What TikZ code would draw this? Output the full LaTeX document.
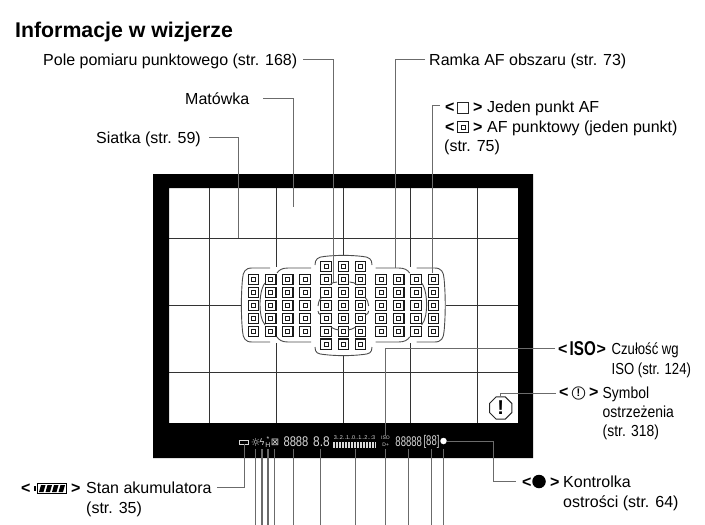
\documentclass[tikz,border=0pt]{standalone}
\usepackage{fontspec}
\setmainfont{Liberation Sans}
\newfontfamily\symfont{DejaVu Sans}
\usetikzlibrary{positioning, shapes.geometric, arrows.meta, calc}
\newcommand{\narrowtxt}[2][.87]{\scalebox{#1}[1]{#2}}

\begin{document}
\begin{tikzpicture}[
  x=1pt, y=-1pt,
  lbl/.style={anchor=base west, inner sep=0pt, text height=12pt, text depth=0pt, font=\fontsize{16}{18}\selectfont},
  brk/.style={anchor=base west, inner sep=0pt, font=\fontsize{16}{18}\selectfont\bfseries},
  title/.style={anchor=base west, inner sep=0pt, font=\fontsize{21.3}{24}\selectfont\bfseries},
  leader/.style={draw=black!58, line width=0.9pt},
  gridline/.style={draw=black!80, line width=0.8pt},
  afout/.style={rectangle, draw=black!90, line width=1.1pt, fill=white, minimum size=10.5pt, inner sep=0pt},
  afin/.style={rectangle, draw=black!90, line width=1pt, fill=white, minimum size=4pt, inner sep=0pt},
  afarc/.style={draw=black!70, line width=0.9pt},
  panel/.style={inner sep=0pt, text=white!85!black, font=\fontsize{14}{14}\selectfont}
]
  \useasboundingbox (0,0) rectangle (705,525);

  \node[title] (head) at (15,37.5) {Informacje w wizjerze};

  % Viewfinder
  \fill[black, even odd rule] (153,174) rectangle (533,458) (169,188) rectangle (518,423);
  \foreach \gx in {209,477} \draw[gridline] (\gx,188) -- (\gx,423);
  \foreach \gy in {238,372.5} \draw[gridline] (169,\gy) -- (518,\gy);
  \draw[gridline] (169,305.3) -- (241,305.3);
  \draw[gridline] (446,305.3) -- (518,305.3);
  \draw[gridline] (276.3,188) -- (276.3,267);
  \draw[gridline] (276.3,343) -- (276.3,423);
  \draw[gridline] (343.3,188) -- (343.3,255);
  \draw[gridline] (343.3,356) -- (343.3,423);
  \draw[gridline] (410,188) -- (410,267);
  \draw[gridline] (410,343) -- (410,423);

  % AF points
  \foreach \ax [count=\c] in {253.3,270.7,287.7,305,381,398.7,416,433.3}
    \foreach \ay [count=\r] in {279.3,292.3,305.3,318.3,331.3} {
      \node[afout] (af\c-\r) at (\ax,\ay) {};
      \node[afin] at (af\c-\r) {};
    }
  \foreach \ax [count=\c] in {326,343.3,360.6}
    \foreach \ay [count=\r] in {266.5,279.3,292.3,305.3,318.3,331.3,344.2} {
      \node[afout] (mid\c-\r) at (\ax,\ay) {};
      \node[afin] at (mid\c-\r) {};
    }

  % AF area frames
  \foreach \mx/\sx in {0/1,686.6/-1} {
    \begin{scope}[xshift=\mx, xscale=\sx]
      \draw[afarc] (270,268) -- (252,268) .. controls (245,268) and (243,272) .. (242.5,279) .. controls (241,295) and (241,315) .. (242.5,331) .. controls (243,338) and (245,342) .. (252,342) -- (270,342);
      \draw[afarc] (277,273) .. controls (279,270) and (282,268) .. (288,268) -- (311,268);
      \draw[afarc] (277,337) .. controls (279,340) and (282,342) .. (288,342) -- (311,342);
      \draw[afarc] (265,283) .. controls (261,288) and (260,298) .. (260,305) .. controls (260,312) and (261,320) .. (265,325);
      \draw[afarc] (322,297) .. controls (319,300) and (318,303) .. (318,306);
      \draw[afarc] (318,311) .. controls (318,313) and (319,314) .. (321,315);
      \draw[afarc] (329,285) .. controls (332,283) and (334,282) .. (337,282);
      \draw[afarc] (331,327) .. controls (334,329) and (337,330) .. (339,330);
    \end{scope}
  }
  \draw[afarc] (315,265) .. controls (315,259) and (318,257) .. (324,256.5) .. controls (336,255) and (351,255) .. (363,256.5) .. controls (369,257) and (372,259) .. (372,265);
  \draw[afarc] (315,347) .. controls (315,353) and (318,354) .. (324,354.5) .. controls (336,356) and (351,356) .. (363,354.5) .. controls (369,354) and (372,353) .. (372,347);

  % Warning symbol
  \node[regular polygon, regular polygon sides=8, draw=black!85, line width=1pt, minimum size=24pt, inner sep=0pt, font=\fontsize{20}{20}\selectfont\bfseries] (warn) at (500.7,408) {!};

  % Panel under the picture
  \node[draw=white!85!black, line width=0.8pt, minimum width=9pt, minimum height=4pt, inner sep=0pt] (battPanel) at (244,442) {};
  \node[panel, font=\symfont\fontsize{11}{11}\selectfont] (sun) at (255.7,442) {☼};
  \node[panel, font=\symfont\fontsize{9}{9}\selectfont] (flash) at (262,442) {ϟ};
  \node[panel, align=center, font=\fontsize{7}{6.5}\selectfont] (lock) at (268,442) {*\\H};
  \node[panel, font=\symfont\fontsize{10}{10}\selectfont] (meter) at (275,442) {⊠};
  \node[panel] (shutter) at (296,442) {\scalebox{.8}[1]{8888}};
  \node[panel] (aperture) at (321.5,442) {\scalebox{.85}[1]{8.8}};
  \node[panel, font=\fontsize{5.5}{6}\selectfont] (scaleTxt) at (354.5,437.5) {3..2..1..0..1..2..:3};
  \foreach \bx in {333,334.5,...,376} \draw[white!85!black, line width=0.8pt] (\bx,442) -- (\bx,448);
  \coordinate (barMid) at (355.7,448);
  \node[panel, font=\fontsize{5}{5}\selectfont] (isoPanel) at (385.5,437.5) {ISO};
  \node[panel, font=\fontsize{5}{5}\selectfont] (bracket) at (385.7,445) {D+};
  \node[panel] (shots) at (408.7,442) {\scalebox{.68}[1]{88888}};
  \node[panel] (burst) at (431.5,442) {\scalebox{.68}[1]{[88]}};
  \node[circle, fill=white, minimum size=6.5pt, inner sep=0pt] (lamp) at (443.5,441) {};

  % Labels
  \node[lbl] (pole) at (43,65) {Pole pomiaru punktowego (str. 168)};
  \node[lbl] (matowka) at (185,104.5) {Matówka};
  \node[lbl] (siatka) at (96,143) {Siatka (str. 59)};
  \node[lbl] (ramka) at (429,65) {Ramka AF obszaru (str. 73)};

  \node[brk] (oneLt) at (445,112.5) {<};
  \node[rectangle, draw=black!85, line width=0.9pt, minimum size=11pt, inner sep=0pt] (oneBox) at (463,108) {};
  \node[brk] (oneGt) at (473,112.5) {>};
  \node[lbl] (oneTxt) at (487,112.5) {Jeden punkt AF};
  \node[brk] (spotLt) at (445,132) {<};
  \node[afout] (spotBox) at (463,127) {};
  \node[afin] at (spotBox) {};
  \node[brk] (spotGt) at (473,132) {>};
  \node[lbl] (spotTxt) at (487,132) {AF punktowy (jeden punkt)};
  \node[lbl] (spotPage) at (444,151) {(str. 75)};

  \node[brk] (isoLt) at (558,354.5) {<};
  \node[anchor=base west, inner sep=0pt, font=\fontsize{20}{20}\selectfont\bfseries] (isoSym) at (569.5,355) {\scalebox{.76}[1]{ISO}};
  \node[brk] (isoGt) at (596.5,354.5) {>};
  \node[lbl] (isoOne) at (611.5,354.5) {\narrowtxt[.82]{Czułość wg}};
  \node[lbl] (isoTwo) at (611.5,374.5) {\narrowtxt[.82]{ISO (str. 124)}};

  \node[brk] (warnLt) at (559,397.5) {<};
  \node[circle, draw=black!85, line width=0.9pt, minimum size=12.5pt, inner sep=0pt, font=\fontsize{11}{11}\selectfont\bfseries] (warnSym) at (578.5,393) {!};
  \node[brk] (warnGt) at (589,397.5) {>};
  \node[lbl] (warnOne) at (602.5,398) {\narrowtxt{Symbol}};
  \node[lbl] (warnTwo) at (602.5,417) {\narrowtxt{ostrzeżenia}};
  \node[lbl] (warnThree) at (602.5,436.5) {\narrowtxt{(str. 318)}};

  \node[brk] (lampLt) at (522,487) {<};
  \node[circle, fill=black, minimum size=13.5pt, inner sep=0pt] (lampSym) at (539,481.5) {};
  \node[brk] (lampGt) at (550,487) {>};
  \node[lbl] (lampOne) at (563,487) {Kontrolka};
  \node[lbl] (lampTwo) at (563,507) {ostrości (str. 64)};

  \node[brk] (battLt) at (21,493) {<};
  \node[rectangle, draw=black, line width=1pt, minimum width=29pt, minimum height=9.5pt, inner sep=0pt] (battSym) at (52,488.5) {};
  \fill[black] (33.5,486) rectangle (36,491);
  \foreach \sx in {41,47.5,54,60.5}
    \fill[black] (\sx,485) -- (\sx+4.5,485) -- (\sx+2.5,492) -- (\sx-2,492) -- cycle;
  \node[brk] (battGt) at (71,493) {>};
  \node[lbl] (stan) at (86,493) {Stan akumulatora};
  \node[lbl] (stanPage) at (86,513) {(str. 35)};

  % Free ends
  \coordinate (spotEnd) at (333.5,282);
  \coordinate (screenEnd) at (293,207);
  \coordinate (gridEnd) at (238.7,238);
  \coordinate (frameEnd) at (395,268);
  \coordinate (oneStart) at (440,105);
  \coordinate (oneEnd) at (432.7,273);

  % Leaders
  \draw[leader, shorten <=6pt] (pole.east) -| (spotEnd);
  \draw[leader, shorten <=14pt] (matowka.east) -| (screenEnd);
  \draw[leader, shorten <=8pt] (siatka.east) -| (gridEnd);
  \draw[leader, shorten <=4pt] (ramka.west) -| (frameEnd);
  \draw[leader] (oneStart) -| (oneEnd);
  \draw[leader, shorten <=3pt] (isoLt.west |- 0,348) -| (isoPanel.north);
  \draw[leader, shorten <=3pt] (warnLt.west |- warnSym) -| (warn.north);
  \draw[leader, shorten <=5pt] (stan.east |- 0,487) -| (battPanel.south);
  \draw[leader] (lamp.east) -- ++(46,0) |- ([xshift=-6pt]lampLt.west |- lampSym);

  % Panel leaders
  \foreach \part/\px in {sun/255.7,flash/262,lock/268,meter/274.7,shutter/293.7,aperture/320.7,barMid/355.7,bracket/385.7,shots/408.7,burst/431.5,lamp/443.3} {
    \coordinate (foot-\part) at (\px,525);
    \draw[leader, line width=1.3pt] (foot-\part |- 0,449) -- (foot-\part);
  }
\end{tikzpicture}
\end{document}
